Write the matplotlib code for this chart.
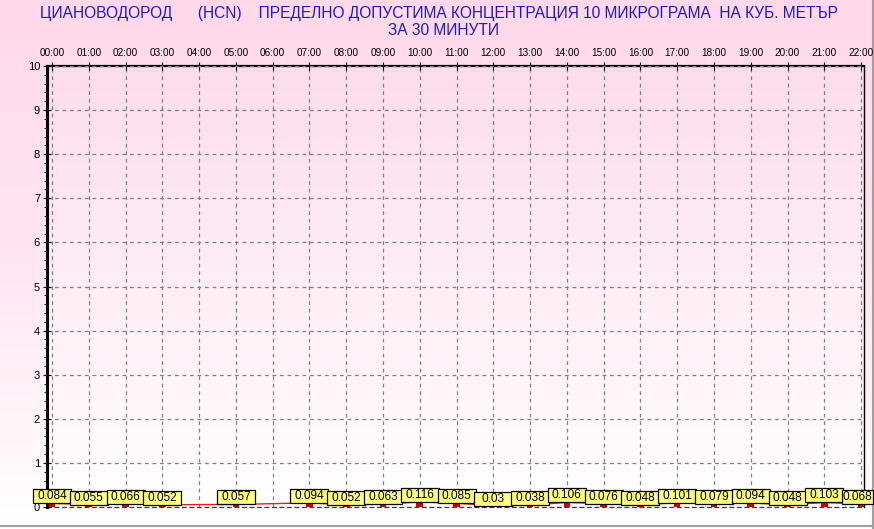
import numpy as np
import matplotlib
matplotlib.use('Agg')
import matplotlib.pyplot as plt
import matplotlib.transforms as mtransforms
from matplotlib.colors import LinearSegmentedColormap
from matplotlib.patches import Rectangle
from matplotlib.ticker import MultipleLocator

plt.rcParams['font.family'] = ['Liberation Sans', 'DejaVu Sans']

hours = list(range(23))
hour_labels = ['%02d:00' % h for h in hours]
values = [0.084, 0.055, 0.066, 0.052, None, 0.057, None, 0.094, 0.052, 0.063,
          0.116, 0.085, 0.03, 0.038, 0.106, 0.076, 0.048, 0.101, 0.079, 0.094,
          0.048, 0.103, 0.068]
title_1 = 'ЦИАНОВОДОРОД      (HCN)    ПРЕДЕЛНО ДОПУСТИМА КОНЦЕНТРАЦИЯ 10 МИКРОГРАМА  НА КУБ. МЕТЪР'
title_2 = 'ЗА 30 МИНУТИ'

W, H = 874, 529
fig = plt.figure(figsize=(W / 100, H / 100), dpi=100)

# pink -> white gradient behind everything
grad = np.linspace(0, 1, 256).reshape(-1, 1)
bg_cmap = LinearSegmentedColormap.from_list('bg', ['#ffd8ea', '#ffe6f1', '#ffffff'])
bg = fig.add_axes([0, 0, 1, 1], zorder=-10)
bg.imshow(grad, aspect='auto', cmap=bg_cmap, extent=[0, 1, 0, 1], origin='upper')
bg.axis('off')
bg.plot([0, 1], [3 / H, 3 / H], color='#a0a0a0', lw=1.5)
bg.plot([1 - 1.5 / W, 1 - 1.5 / W], [0, 1], color='#a0a0a0', lw=1.5)
bg.set_xlim(0, 1)
bg.set_ylim(0, 1)

left, right, top, bottom = 47, 864, 66, 507
ax = fig.add_axes([left / W, 1 - bottom / H, (right - left) / W, (bottom - top) / H])
ax.set_facecolor('none')
xmin, xmax = -0.136, 22.08
ax.set_xlim(xmin, xmax)
ax.set_ylim(0, 10)

plot_cmap = LinearSegmentedColormap.from_list('pl', ['#fddcec', '#feeef5', '#ffffff'])
ax.imshow(grad, aspect='auto', cmap=plot_cmap, extent=[xmin, xmax, 0, 10],
          origin='upper', zorder=0)

ax.grid(True, which='major', color='#808080', linestyle=(0, (3, 3)), linewidth=0.9)
ax.set_axisbelow(False)

ax.xaxis.tick_top()
ax.set_xticks(hours)
ax.set_xticklabels(hour_labels, fontsize=7.2)
ax.set_yticks(range(11))
ax.set_yticklabels([str(v) for v in range(11)], fontsize=8)
ax.yaxis.set_minor_locator(MultipleLocator(0.2))
ax.tick_params(axis='both', which='major', direction='inout', length=6, width=0.8, pad=2)
ax.tick_params(axis='x', which='major', pad=3)
ax.tick_params(axis='y', which='minor', direction='out', length=2, width=0.6)

ax.spines['left'].set_linewidth(2.2)
ax.spines['top'].set_linewidth(1.6)
ax.spines['right'].set_linewidth(1.0)
ax.spines['bottom'].set_linestyle((0, (3, 3)))
ax.spines['bottom'].set_color('#404040')
ax.spines['bottom'].set_linewidth(0.9)

xs = [h for h, v in zip(hours, values) if v is not None]
ys = [v for v in values if v is not None]
ax.bar(xs, ys, width=0.18, color='#cc0000', zorder=3)
ax.plot(xs, ys, color='#e02020', lw=1.0, zorder=3)

# value labels: yellow boxes sized in pixels, anchored on each point,
# the right edge is cut at the figure border like in the original
box_w, box_h = 38, 14
for x, y in zip(xs, ys):
    px, py = ax.transData.transform((x, y))
    w = min(box_w, (W - 1) - (px - box_w / 2))
    tr = mtransforms.Affine2D() + mtransforms.ScaledTranslation(x, y, ax.transData)
    ax.add_patch(Rectangle((-box_w / 2, 0), w, box_h, transform=tr,
                           facecolor='#ffff80', edgecolor='black', linewidth=0.9,
                           zorder=5, clip_on=False))
    ax.annotate(str(y), (x, y), xytext=(-box_w / 2 + w / 2, box_h / 2),
                textcoords='offset pixels', ha='center', va='center',
                fontsize=8.6, zorder=6)

fig.text(0.502, 1 - 13.5 / H, title_1, ha='center', va='center', fontsize=11.2,
         color='#1a1ac8')
fig.text(0.507, 1 - 30.5 / H, title_2, ha='center', va='center', fontsize=11.2,
         color='#1a1ac8')

fig.savefig('out.png', dpi=100)
